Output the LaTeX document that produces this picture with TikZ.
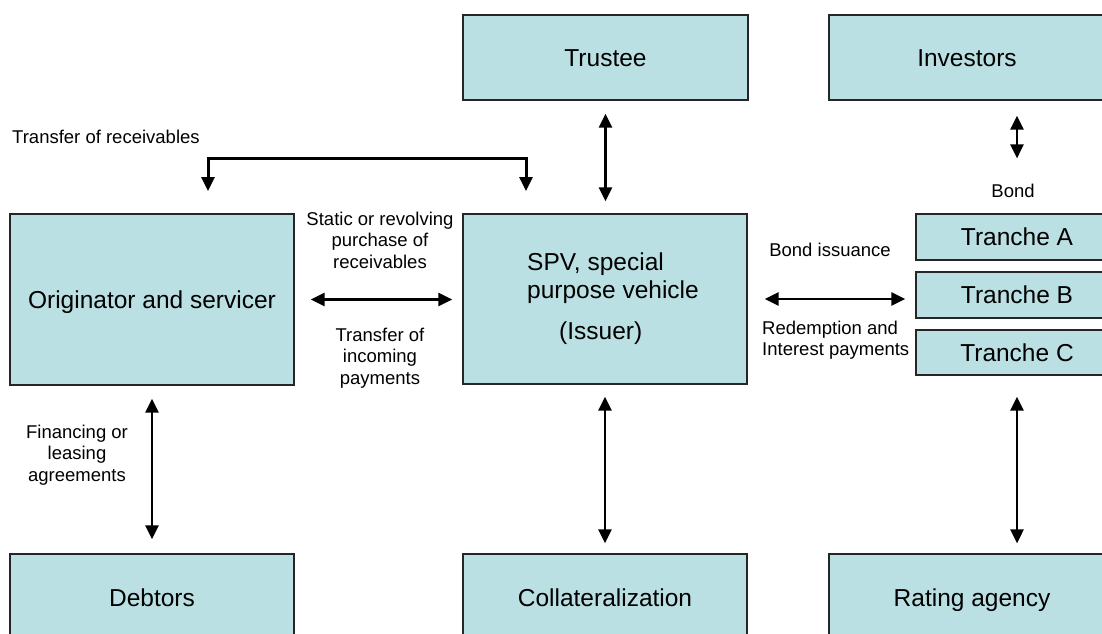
\documentclass[tikz,border=0pt]{standalone}
\usepackage{fontspec}
\setmainfont{Liberation Sans}
\usepackage{tikz}
\usetikzlibrary{arrows.meta}
\usetikzlibrary{positioning}
\tikzset{box/.style = {draw=black!85, line width=1.2pt, fill=boxfill,
                       minimum height=85pt, inner sep=0pt,
                       font=\fontsize{24.5}{28}\selectfont},
         onebox/.style = {box, text height=17.5pt, text depth=0pt},
         lbl/.style = {inner sep=0pt, align=center,
                       font=\fontsize{18.5}{21.5}\selectfont},
         dbl/.style = {line width=2.7pt, {Triangle[length=14pt,width=13pt]}-{Triangle[length=14pt,width=13pt]}}}
\definecolor{boxfill}{RGB}{187, 224, 227}

\begin{document}
\begin{tikzpicture}[x=1pt, y=-1pt]
      \clip (0, 0) rectangle (1102, 633);

      \node [onebox, minimum width=285pt] (trustee) at (605.5, 57.5) {Trustee};
      \node [onebox, minimum width=276pt] (investors) at (967, 57.5) {Investors};

      \node [onebox, minimum width=284pt, minimum height=171pt] (orig) at (152, 299.5) {Originator and servicer};
      \node [box, minimum width=284pt, minimum height=170pt, align=left] (spv) at (605, 299)
            {\hspace*{16pt}SPV, special\\\hspace*{16pt}purpose vehicle\\[13pt]\hspace*{48pt}(Issuer)};

      \node [onebox, minimum width=202pt, minimum height=46pt] (trA) at (1017, 237) {Tranche A};
      \node [onebox, minimum width=202pt, minimum height=46pt] (trB) at (1017, 295) {Tranche B};
      \node [onebox, minimum width=202pt, minimum height=45pt] (trC) at (1017, 352.5) {Tranche C};

      \node [onebox, minimum width=284pt, minimum height=88pt] (debtors) at (152, 598) {Debtors};
      \node [onebox, minimum width=284pt, minimum height=88pt] (collat) at (605, 598) {Collateralization};
      \node [onebox, minimum width=286pt, minimum height=88pt] (rating) at (972, 598) {Rating agency};

      \coordinate (recL) at (208, 191);
      \coordinate (recR) at (526, 191);
      \draw [dbl, line width=3pt] (recL) -- ++(0, -33) -| (recR);
      \node [lbl, anchor=west] (recLbl) at (12, 137) {Transfer of receivables};

      \draw [dbl, shorten <=16pt, shorten >=10pt] (orig.east) -- (orig.east -| spv.west);
      \node [lbl] (purch) at (380, 240) {Static or revolving\\purchase of\\receivables};
      \node [lbl] (incoming) at (380, 358) {Transfer of\\incoming\\payments};

      \draw [dbl, shorten <=13pt, shorten >=12pt] (trustee.south) -- (trustee.south |- spv.north);
      \draw [dbl] ([yshift=-15pt]investors.south -| trA.north) -- ([yshift=55pt]trA.north);
      \node [lbl] (bond) at (1013, 191) {Bond};

      \draw [dbl, shorten <=17pt, shorten >=10pt] (spv.east) -- (spv.east -| trB.west);
      \node [lbl] (issuance) at (830, 250) {Bond issuance};
      \node [lbl, anchor=west, align=left] (redemp) at (762, 340) {Redemption and\\Interest payments};

      \draw [dbl, shorten <=13pt, shorten >=14pt] (orig.south) -- (debtors.north);
      \node [lbl] (financing) at (77, 455) {Financing or\\leasing\\agreements};

      \draw [dbl, shorten <=12pt, shorten >=10pt] (spv.south) -- (collat.north);
      \draw [dbl, shorten <=21pt, shorten >=10pt] (trC.south) -- (trC.south |- rating.north);
    \end{tikzpicture}
\end{document}
